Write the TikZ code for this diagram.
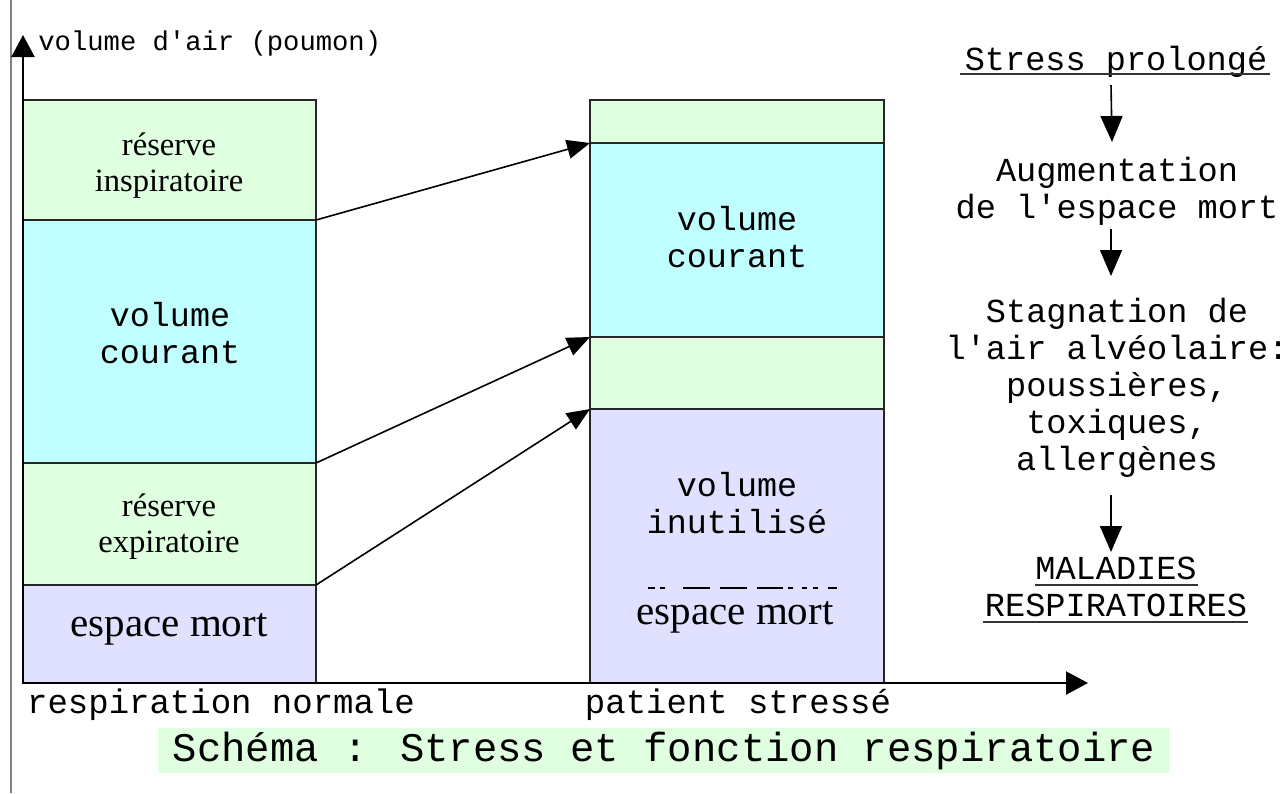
\documentclass[tikz,border=0pt]{standalone}
\usepackage{fontspec}
\setmainfont{Liberation Serif}
\newfontfamily\monof{Liberation Mono}
\usetikzlibrary{arrows.meta}
\definecolor{lgreen}{HTML}{E0FFE0}
\definecolor{lcyan}{HTML}{C0FFFF}
\definecolor{llav}{HTML}{E0E0FF}
\begin{document}
\begin{tikzpicture}[x=0.5pt,y=-0.5pt,
  box/.style={draw=black!85, line width=0.9pt, inner sep=0pt, outer sep=0pt, anchor=north west},
  lbox/.style={box, minimum width=146.5pt},
  rbox/.style={box, minimum width=147pt},
  serifl/.style={align=center, inner sep=0pt, font=\fontsize{16.3}{18}\selectfont},
  seriflarge/.style={inner sep=0pt, font=\fontsize{20.5}{22}\selectfont},
  monol/.style={align=center, inner sep=0pt, font=\monof\fontsize{16.7}{18.7}\selectfont},
  flowtxt/.style={align=center, inner sep=0pt, font=\monof\fontsize{16.8}{18.5}\selectfont},
  conn/.style={line width=0.8pt, -{Triangle[length=11.5pt,width=9.5pt]}},
  flow/.style={line width=0.8pt, -{Triangle[length=13pt,width=11pt]}},
  axis/.style={line width=1.1pt, -{Triangle[length=11pt,width=11.5pt]}},
  uline/.style={line width=1.4pt, black!80}
]
\useasboundingbox (0,0) rectangle (1288,793);
% page edge line
\draw[gray, line width=0.8pt] (11,0) -- (11,793);

% left column
\node[lbox, fill=lgreen, minimum height=60pt] (l1) at (23,100) {};
\node[lbox, fill=lcyan, minimum height=121.5pt] (l2) at (23,220) {};
\node[lbox, fill=lgreen, minimum height=61pt] (l3) at (23,463) {};
\node[lbox, fill=llav, minimum height=49pt] (l4) at (23,585) {};

% right column
\node[rbox, fill=lgreen, minimum height=21.5pt] (r1) at (590,100) {};
\node[rbox, fill=lcyan, minimum height=97pt] (r2) at (590,143) {};
\node[rbox, fill=lgreen, minimum height=36pt] (r3) at (590,337) {};
\node[rbox, fill=llav, minimum height=137pt] (r4) at (590,409) {};

% texts in boxes
\node[serifl] (t1) at (169,166) {réserve\\inspiratoire};
\node[monol] (t2) at (170,333) {volume\\courant};
\node[serifl] (t3) at (169,527) {réserve\\expiratoire};
\node[seriflarge] (t4) at (169,629) {espace mort};
\node[monol] (t5) at (737,237) {volume\\courant};
\node[monol] (t6) at (737,503) {volume\\inutilisé};
\node[seriflarge] (t7) at (735,617) {espace mort};
\draw[line width=1pt, dash pattern=on 3.5pt off 2.5pt on 2.5pt off 9pt on 13.5pt off 5pt on 13.5pt off 5pt on 13pt off 2.5pt on 2.5pt off 4.5pt on 2.5pt off 3pt on 2.5pt off 5pt on 4.5pt off 20pt]
  (648,588) -- (837,588);

% axes
\coordinate (o) at (23,683);
\coordinate (ytop) at (23,35);
\coordinate (xend) at (1088,683);
\draw[axis] (o) -- (ytop);
\draw[axis] (o) -- (xend);
\node[anchor=west, inner sep=0pt, font=\monof\fontsize{13.6}{15}\selectfont] (ylab) at (38,43) {volume d'air (poumon)};

% connectors
\draw[conn] (l1.south east) -- (r2.north west);
\draw[conn] (l2.south east) -- (r3.north west);
\draw[conn] (l3.south east) -- (r4.north west);

% x labels
\node[inner sep=0pt, font=\monof\fontsize{17}{19}\selectfont] (xl1) at (221,705) {respiration normale};
\node[inner sep=0pt, font=\monof\fontsize{17}{19}\selectfont] (xl2) at (738,705) {patient stressé};

% title
\node[fill=lgreen, minimum width=506pt, minimum height=22.5pt, inner sep=0pt, font=\monof\fontsize{20.3}{22}\selectfont] (title) at (664,750.5) {Schéma : Stress et fonction respiratoire};

% right flow
\node[flowtxt] (sp) at (1116,62) {Stress prolongé};
\draw[uline] (960,74) -- (1270,74);
\node[flowtxt] (aug) at (1117,191) {Augmentation\\de l'espace mort};
\node[flowtxt] (stag) at (1117,388) {Stagnation de\\l'air alvéolaire:\\poussières,\\toxiques,\\allergènes};
\node[flowtxt] (mal) at (1116,587) {MALADIES\\RESPIRATOIRES};
\draw[uline] (1035,585) -- (1198,585);
\draw[uline] (983,622) -- (1248,622);

\draw[flow] ([xshift=-2.5pt,yshift=-11.5pt]sp.center) -- ([xshift=-2.5pt,yshift=24.5pt]aug.center);
\draw[flow] ([xshift=-3pt,yshift=-19pt]aug.center) -- ([xshift=-3pt,yshift=56pt]stag.center);
\draw[flow] ([xshift=-3pt,yshift=-53.5pt]stag.center) -- ([xshift=-2.5pt,yshift=17.5pt]mal.center);
\end{tikzpicture}
\end{document}
